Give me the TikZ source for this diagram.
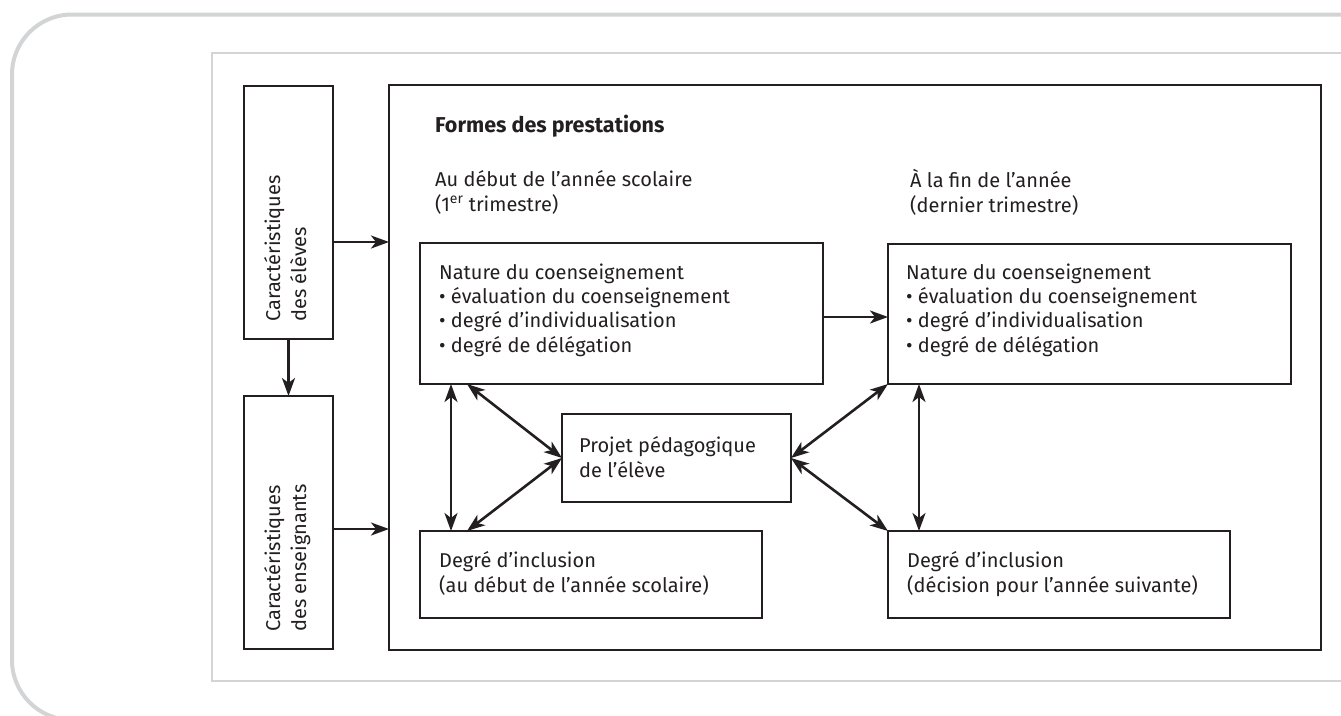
\documentclass[tikz,border=0pt]{standalone}
\usepackage{fontspec}
\setmainfont{Fira Sans}
\usetikzlibrary{arrows.meta,calc}
\definecolor{ink}{HTML}{231F20}
\definecolor{frame}{HTML}{D3D4D5}
\tikzset{
  box/.style={draw=ink, line width=2.7pt, rectangle, inner sep=0pt, outer sep=0pt, anchor=north west},
  txt/.style={inner sep=0pt, anchor=base west, align=left, text=ink, font=\fontsize{20}{24.2}\selectfont},
  arr/.style={draw=ink, line width=2.6pt, -{Stealth[length=18pt,width=13pt,inset=5pt]}},
  darr/.style={draw=ink, line width=2.6pt, {Stealth[length=18pt,width=13pt,inset=5pt]}-{Stealth[length=18pt,width=13pt,inset=5pt]}},
}
\begin{document}
\begin{tikzpicture}[x=1pt,y=-1pt]
\useasboundingbox (0,0) rectangle (1341,715);
% frames
\draw[frame, line width=4pt, rounded corners=60pt] (1420,720) -- (12,720) -- (12,14.5) -- (1420,14.5);
\draw[frame, line width=2.5pt] (1420,53) -- (212,53) -- (212,681) -- (1420,681);
% boxes
\node[box, minimum width=89pt, minimum height=253pt] (b1) at (244,86) {};
\node[box, minimum width=89pt, minimum height=253pt] (b2) at (244,396) {};
\node[box, minimum width=932pt, minimum height=565pt] (main) at (389,85) {};
\node[box, minimum width=403pt, minimum height=141pt] (nat1) at (420,243) {};
\node[box, minimum width=403pt, minimum height=140pt] (nat2) at (888,244) {};
\node[box, minimum width=229pt, minimum height=88pt] (proj) at (562,414) {};
\node[box, minimum width=342pt, minimum height=87pt] (inc1) at (420,531) {};
\node[box, minimum width=342pt, minimum height=87pt] (inc2) at (888,531) {};
% texts (anchor = baseline of the last line)
\node[txt, rotate=90, font=\fontsize{20}{26}\selectfont] (t1) at (306,322) {Caractéristiques\\des élèves};
\node[txt, rotate=90, font=\fontsize{20}{26}\selectfont] (t2) at (306,632) {Caractéristiques\\des enseignants};
\node[txt, font=\fontsize{21.5}{24.2}\selectfont\bfseries] (tf) at (435,132) {Formes des prestations};
\node[txt] (th1) at (435,211) {Au début de l’année scolaire\\(1\textsuperscript{er} trimestre)};
\node[txt] (th2) at (910,212) {À la fin de l’année\\(dernier trimestre)};
\node[txt] (tn1) at (439,352) {Nature du coenseignement\\• évaluation du coenseignement\\• degré d’individualisation\\• degré de délégation};
\node[txt] (tn2) at (906,352) {Nature du coenseignement\\• évaluation du coenseignement\\• degré d’individualisation\\• degré de délégation};
\node[txt] (tp) at (579,477) {Projet pédagogique\\de l’élève};
\node[txt] (ti1) at (439,592) {Degré d’inclusion\\(au début de l’année scolaire)};
\node[txt] (ti2) at (907,592) {Degré d’inclusion\\(décision pour l’année suivante)};
% connectors
\draw[arr] (b1.south) -- (b2.north);
\draw[arr] (b1.east |- 0,242) -- (main.west |- 0,242);
\draw[arr] (b2.east |- 0,529) -- (main.west |- 0,529);
\draw[arr] (nat1.east |- 0,317) -- (nat2.west |- 0,317);
\draw[darr] ($(nat1.south west)+(31,0)$) -- ($(inc1.north west)+(31,0)$);
\draw[darr] ($(nat2.south west)+(31,0)$) -- ($(inc2.north west)+(31,0)$);
\draw[darr] ($(nat1.south west)+(47,0)$) -- (proj.west);
\draw[darr] (proj.west) -- ($(inc1.north west)+(47,0)$);
\draw[darr] (proj.east) -- (nat2.south west);
\draw[darr] (proj.east) -- (inc2.north west);
\end{tikzpicture}
\end{document}
